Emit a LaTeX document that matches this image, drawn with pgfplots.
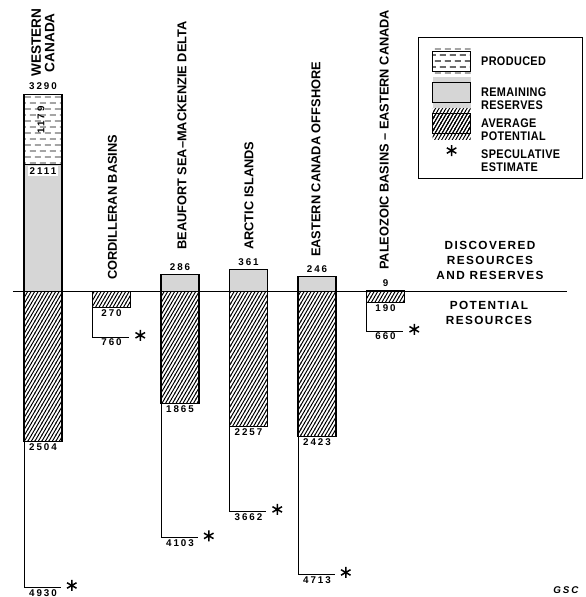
\documentclass[border=0pt]{standalone}
\usepackage{fontspec}
\setmainfont{Liberation Sans}
\usepackage{pgfplots}
\pgfplotsset{compat=1.18}
\usetikzlibrary{patterns}
\newfontfamily\numfam[LetterSpace=20]{Liberation Sans}
\newfontfamily\spfam[LetterSpace=12]{Liberation Sans}
\newfontfamily\legfam[LetterSpace=3,FakeStretch=0.87]{Liberation Sans}
\newcommand\catf{\fontsize{12.8}{13}\selectfont\bfseries}
\newcommand\wcf{\fontsize{13.6}{13.5}\selectfont\bfseries}
\newcommand\numf{\numfam\fontsize{9.8}{11}\selectfont\bfseries}
\newcommand\sidef{\spfam\fontsize{11.8}{15}\selectfont\bfseries}
\newcommand\legf{\legfam\fontsize{12.5}{13}\selectfont\bfseries}

\pgfdeclarepatternformonly{hatchx}{\pgfqpoint{-0.5pt}{-0.5pt}}{\pgfqpoint{4pt}{6.5pt}}{\pgfqpoint{3.5pt}{6pt}}{%
  \pgfsetlinewidth{0.95pt}%
  \pgfpathmoveto{\pgfqpoint{-0.2917pt}{-0.5pt}}\pgfpathlineto{\pgfqpoint{3.7917pt}{6.5pt}}%
  \pgfusepath{stroke}}
\pgfdeclarepatternformonly{dashrows}{\pgfqpoint{0pt}{0pt}}{\pgfqpoint{10pt}{12pt}}{\pgfqpoint{10pt}{12pt}}{%
  \pgfsetlinewidth{0.8pt}%
  \pgfpathmoveto{\pgfqpoint{1pt}{3pt}}\pgfpathlineto{\pgfqpoint{7pt}{3pt}}%
  \pgfpathmoveto{\pgfqpoint{6pt}{9pt}}\pgfpathlineto{\pgfqpoint{10pt}{9pt}}%
  \pgfpathmoveto{\pgfqpoint{0pt}{9pt}}\pgfpathlineto{\pgfqpoint{2pt}{9pt}}%
  \pgfusepath{stroke}}

\pgfplotsset{
  boxlegend/.style={legend image code/.code={\path[draw=none] (0pt,-15.5pt) rectangle (38pt,15.5pt); \draw[##1] (0pt,-10pt) rectangle (38pt,10pt);}},
  starlegend/.style={legend image code/.code={\path[draw=none] (0pt,-15.5pt) rectangle (38pt,15.5pt); \draw[##1] plot coordinates {(19pt,4pt)};}},
}

\begin{document}
\begin{tikzpicture}
\begin{axis}[
  scale only axis, width=586pt, height=597pt,
  xmin=-0.6277, xmax=7.927, ymin=-5091.7, ymax=4858.3,
  hide axis, clip=false,
  legend cell align=left,
  legend style={at={(rel axis cs:0.7133,0.9380)}, anchor=north west,
    draw=black, line width=1.1pt, font=\legf,
    inner xsep=13.5pt, inner ysep=8.5pt, row sep=0pt, column sep=8pt,
    cells={anchor=west, align=left, inner sep=0pt, text width=86pt}},
]
\path (rel axis cs:0,0) rectangle (rel axis cs:1,1);

% produced (full height of western canada column, overlaid by remaining reserves)
\addplot[ybar, bar width=0.555, bar shift=0pt, draw=black, line width=1.1pt, pattern=dashrows, boxlegend]
  coordinates {(0,3290)};
\addlegendentry{PRODUCED}

% remaining reserves
\addplot[ybar, bar width=0.555, bar shift=0pt, draw=black, line width=1.1pt, fill=black!16, boxlegend]
  coordinates {(0,2111) (2,286) (3,361) (4,246) (5,9)};
\addlegendentry{REMAINING\\RESERVES}

% average potential
\addplot[ybar, bar width=0.555, bar shift=0pt, draw=black, line width=1.1pt, pattern=hatchx, boxlegend]
  coordinates {(0,-2504) (1,-270) (2,-1865) (3,-2257) (4,-2423) (5,-190)};
\addlegendentry{AVERAGE\\POTENTIAL}

% speculative estimate markers
\addplot[only marks, mark=asterisk, mark size=5.5pt, line width=1.5pt, black, starlegend]
  coordinates {(0.42,-4900) (1.42,-730) (2.42,-4073) (3.42,-3632) (4.42,-4683) (5.42,-630)};
\addlegendentry{SPECULATIVE\\ESTIMATE}

% speculative brackets
\addplot[black, line width=0.9pt, forget plot] coordinates {(-0.2775,-2504) (-0.2775,-4930) (0.26,-4930)};
\addplot[black, line width=0.9pt, forget plot] coordinates {(0.7225,-270) (0.7225,-760) (1.26,-760)};
\addplot[black, line width=0.9pt, forget plot] coordinates {(1.7225,-1865) (1.7225,-4103) (2.26,-4103)};
\addplot[black, line width=0.9pt, forget plot] coordinates {(2.7225,-2257) (2.7225,-3662) (3.26,-3662)};
\addplot[black, line width=0.9pt, forget plot] coordinates {(3.7225,-2423) (3.7225,-4713) (4.26,-4713)};
\addplot[black, line width=0.9pt, forget plot] coordinates {(4.7225,-190) (4.7225,-660) (5.26,-660)};

% baseline
\addplot[black, line width=1.2pt, forget plot] coordinates {(-0.438,0) (7.65,0)};

% category labels
\node[rotate=90, anchor=west, inner sep=0pt, align=center, font=\wcf] at (axis cs:0,3575) {WESTERN\\CANADA};
\node[rotate=90, anchor=west, inner sep=0pt, font=\catf] at (axis cs:1.015,192) {CORDILLERAN BASINS};
\node[rotate=90, anchor=west, inner sep=0pt, font=\catf] at (axis cs:2.03,692) {BEAUFORT SEA–MACKENZIE DELTA};
\node[rotate=90, anchor=west, inner sep=0pt, font=\catf] at (axis cs:3.007,692) {ARCTIC ISLANDS};
\node[rotate=90, anchor=west, inner sep=0pt, font=\catf] at (axis cs:3.985,575) {EASTERN CANADA OFFSHORE};
\node[rotate=90, anchor=west, inner sep=0pt, font=\catf] at (axis cs:4.98,358) {PALEOZOIC BASINS – EASTERN CANADA};

% values above
\node[anchor=south, inner sep=0pt, yshift=4pt, font=\numf] at (axis cs:0,3290) {3290};
\node[anchor=south, inner sep=0pt, yshift=4pt, font=\numf] at (axis cs:2,286) {286};
\node[anchor=south, inner sep=0pt, yshift=4pt, font=\numf] at (axis cs:3,361) {361};
\node[anchor=south, inner sep=0pt, yshift=4pt, font=\numf] at (axis cs:4,246) {246};
\node[anchor=south, inner sep=0pt, yshift=4pt, font=\numf] at (axis cs:5,9) {9};
\node[anchor=north, fill=white, inner xsep=1.5pt, inner ysep=1.5pt, yshift=-0.8pt, font=\numf] at (axis cs:0,2111) {2111};
\node[rotate=90, inner sep=0pt, font=\numf] at (axis cs:-0.03,2858) {1179};

% values below bars
\node[anchor=north, inner sep=0pt, yshift=-1.8pt, font=\numf] at (axis cs:0,-2504) {2504};
\node[anchor=north, inner sep=0pt, yshift=-1.8pt, font=\numf] at (axis cs:1,-270) {270};
\node[anchor=north, inner sep=0pt, yshift=-1.8pt, font=\numf] at (axis cs:2,-1865) {1865};
\node[anchor=north, inner sep=0pt, yshift=-1.8pt, font=\numf] at (axis cs:3,-2257) {2257};
\node[anchor=north, inner sep=0pt, yshift=-1.8pt, font=\numf] at (axis cs:4,-2423) {2423};
\node[anchor=north, inner sep=0pt, yshift=-1.8pt, font=\numf] at (axis cs:5,-190) {190};

% speculative values
\node[anchor=north, inner sep=0pt, yshift=-1.8pt, font=\numf] at (axis cs:0,-4930) {4930};
\node[anchor=north, inner sep=0pt, yshift=-1.8pt, font=\numf] at (axis cs:1,-760) {760};
\node[anchor=north, inner sep=0pt, yshift=-1.8pt, font=\numf] at (axis cs:2,-4103) {4103};
\node[anchor=north, inner sep=0pt, yshift=-1.8pt, font=\numf] at (axis cs:3,-3662) {3662};
\node[anchor=north, inner sep=0pt, yshift=-1.8pt, font=\numf] at (axis cs:4,-4713) {4713};
\node[anchor=north, inner sep=0pt, yshift=-1.8pt, font=\numf] at (axis cs:5,-660) {660};

% side labels
\node[align=center, font=\sidef, inner sep=0pt] at (axis cs:6.526,525) {DISCOVERED\\RESOURCES\\AND RESERVES};
\node[align=center, font=\sidef, inner sep=0pt] at (axis cs:6.51,-350) {POTENTIAL\\RESOURCES};

% credit
\node[font=\numf\itshape, inner sep=0pt] at (axis cs:7.635,-4975) {GSC};
\end{axis}
\end{tikzpicture}
\end{document}
